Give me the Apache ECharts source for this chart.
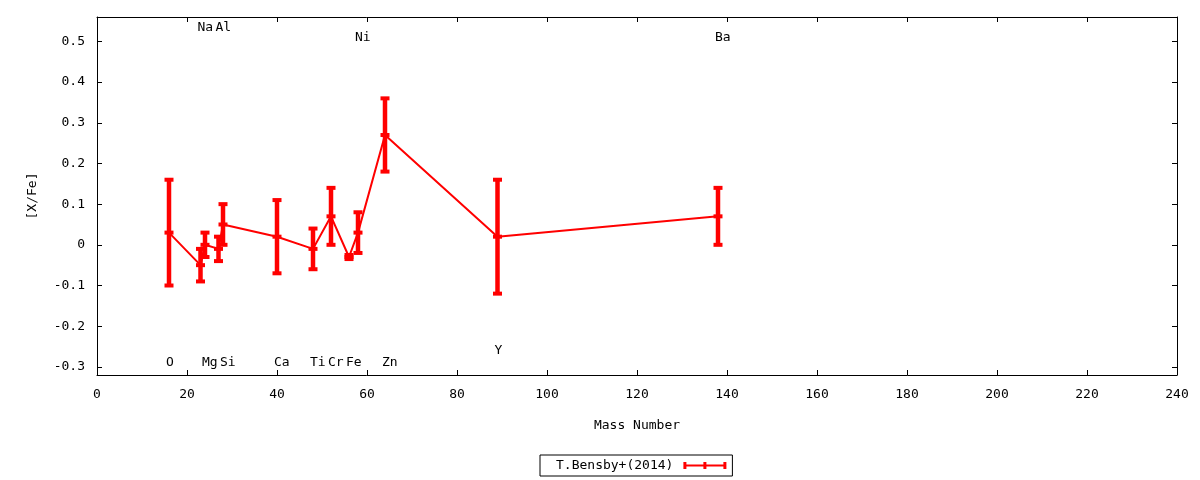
<!DOCTYPE html>
<html><head><meta charset="utf-8">
<script src="https://cdn.jsdelivr.net/npm/echarts@6/dist/echarts.min.js"></script>
<style>html,body{margin:0;padding:0;background:#fff}#c{width:1200px;height:480px}</style>
</head><body><div id="c"></div>
<script>
const elements = ['O','Na','Mg','Al','Si','Ca','Ti','Cr','Fe','Ni','Zn','Y','Ba'];
const massNumbers = [16,23,24,27,28,40,48,52,56,58,64,89,138];
const abundances = [0.03,-0.05,0.00,-0.01,0.05,0.02,-0.01,0.07,-0.03,0.03,0.27,0.02,0.07];
const errors = [0.13,0.04,0.03,0.03,0.05,0.09,0.05,0.07,0.005,0.05,0.09,0.14,0.07];
const labelY = [-0.29,0.535,-0.29,0.535,-0.29,-0.29,-0.29,-0.29,-0.29,0.51,-0.29,-0.26,0.51];
const yTicks = [-0.3,-0.2,-0.1,0,0.1,0.2,0.3,0.4,0.5];
const xTickStep = 20;
const seriesName = 'T.Bensby+(2014)';

const FONT = '"DejaVu Sans Mono", monospace';
const RED = '#ff0000';
const points = massNumbers.map((m, i) => [m, abundances[i], errors[i]]);
const labelData = massNumbers.map((m, i) => [m, labelY[i], elements[i]]);
const fmtY = v => (Math.abs(v) < 1e-9 ? '0' : v.toFixed(1));

function renderErr(params, api) {
  const x = api.value(0), y = api.value(1), e = api.value(2);
  const top = api.coord([x, y + e]);
  const bot = api.coord([x, y - e]);
  const mid = api.coord([x, y]);
  const style = { fill: RED };
  const capW = 9, capH = 4, barW = 4.5;
  const cap = p => ({ type: 'rect', shape: { x: p[0] - capW / 2, y: p[1] - capH / 2, width: capW, height: capH }, style });
  return {
    type: 'group',
    children: [
      { type: 'rect', shape: { x: top[0] - barW / 2, y: top[1], width: barW, height: bot[1] - top[1] }, style },
      cap(top), cap(bot), cap(mid)
    ]
  };
}

function renderLabel(params, api) {
  const p = api.coord([api.value(0), api.value(1)]);
  return {
    type: 'text',
    x: p[0] - 3, y: p[1],
    style: { text: labelData[params.dataIndex][2], fill: '#000', font: '13px ' + FONT, textAlign: 'left', textVerticalAlign: 'middle' }
  };
}

const xTick = { show: true, inside: true, length: 5, lineStyle: { color: '#000', width: 1 } };
const yTick = () => ({ show: true, inside: false, length: -5, customValues: yTicks, lineStyle: { color: '#000', width: 1 } });
const lineCommon = { show: true, onZero: false, lineStyle: { color: '#000', width: 1 } };
const chart = echarts.init(document.getElementById('c'));
chart.setOption({
  animation: false,
  backgroundColor: '#fff',
  textStyle: { fontFamily: FONT },
  grid: { left: 97, right: 23, top: 17, bottom: 105, containLabel: false, outerBoundsMode: 'none',
          show: false },
  legend: {
    left: 540, top: 455,
    padding: [4, 6, 4, 16],
    borderColor: '#000', borderWidth: 1, borderRadius: 0,
    align: 'right',
    itemWidth: 48, itemHeight: 7,
    textStyle: { fontFamily: FONT, fontSize: 13, color: '#000' },
    data: [{ name: seriesName, icon: 'path://M0,3.5h0.01v0.01h-0.01ZM5,0H8V2.5H25V0H28V2.5H45V0H48V7H45V4.5H28V7H25V4.5H8V7H5Z', itemStyle: { color: RED } }]
  },
  xAxis: [{
    type: 'value', min: 0, max: 240, interval: xTickStep,
    name: 'Mass Number', nameLocation: 'middle', nameGap: 44,
    nameTextStyle: { fontFamily: FONT, fontSize: 13, color: '#000' },
    axisLine: lineCommon,
    axisTick: xTick,
    axisLabel: { margin: 13, fontFamily: FONT, fontSize: 13, color: '#000' },
    splitLine: { show: false }
  }, {
    type: 'value', position: 'top', min: 0, max: 240, interval: xTickStep,
    axisLine: lineCommon,
    axisTick: xTick, axisLabel: { show: false }, splitLine: { show: false }
  }],
  yAxis: [{
    type: 'value', min: -0.32, max: 0.56,
    name: '[X/Fe]', nameLocation: 'middle', nameRotate: 90, nameGap: 58,
    nameTextStyle: { fontFamily: FONT, fontSize: 13, color: '#000' },
    axisLine: lineCommon,
    axisTick: yTick(),
    axisLabel: { customValues: yTicks, margin: 12, fontFamily: FONT, fontSize: 13, color: '#000', formatter: fmtY },
    splitLine: { show: false }
  }, {
    type: 'value', position: 'right', min: -0.32, max: 0.56,
    axisLine: lineCommon,
    axisTick: yTick(),
    axisLabel: { show: false }, splitLine: { show: false }
  }],
  series: [{
    name: seriesName, type: 'line', data: points.map(p => [p[0], p[1]]),
    xAxisIndex: 0, yAxisIndex: 0,
    symbol: 'none', lineStyle: { color: RED, width: 2 }, itemStyle: { color: RED }, z: 2
  }, {
    type: 'custom', data: points, xAxisIndex: 0, yAxisIndex: 0,
    renderItem: renderErr, z: 3, encode: { x: 0, y: 1 }
  }, {
    type: 'custom', data: labelData.map(d => [d[0], d[1]]), xAxisIndex: 0, yAxisIndex: 0,
    renderItem: renderLabel, z: 4, silent: true
  }]
});
</script></body></html>
